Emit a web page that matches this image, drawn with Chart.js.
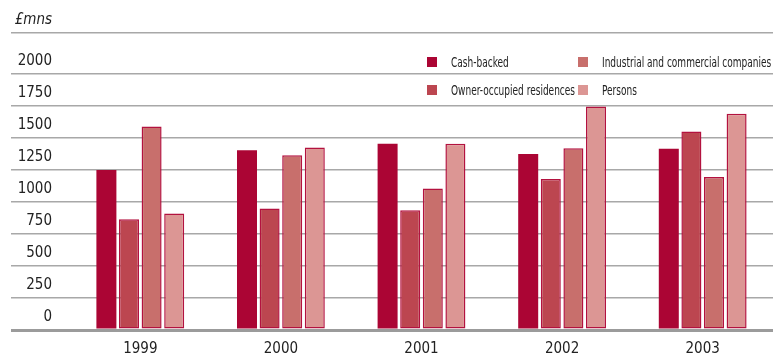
<!DOCTYPE html>
<html>
<head>
<meta charset="utf-8">
<script src="https://cdn.jsdelivr.net/npm/chart.js@4/dist/chart.umd.min.js"></script>
<style>
  html, body { margin: 0; padding: 0; background: #fff; overflow: hidden; }
  #wrap { position: relative; width: 773px; height: 356px; overflow: hidden; }
  #chart { display: block; }
  #legend {
    position: absolute; left: 427px; top: 52px;
    display: grid; grid-auto-flow: column;
    grid-template-rows: 20px 20px; row-gap: 8px;
    grid-template-columns: 151px 180px;
    font-family: "DejaVu Sans Condensed", "DejaVu Sans", sans-serif;
    font-size: 14px; color: #222;
  }
  .item { display: flex; align-items: center; white-space: nowrap; }
  .box { width: 10px; height: 10px; margin-right: 14px; flex: none; }
  .txt { display: inline-block; transform: scaleX(0.715); transform-origin: left center; }
</style>
</head>
<body>
<div id="wrap">
  <canvas id="chart" width="773" height="356"></canvas>
  <div id="legend"></div>
</div>
<script>
// Years on the category axis
const categories = ['1999', '2000', '2001', '2002', '2003'];

// Amounts in £ millions
const cashBacked      = [1250, 1405, 1455, 1375, 1415];
const ownerOccupied   = [ 865,  950,  935, 1180, 1550];
const industrialComm  = [1590, 1365, 1105, 1420, 1195];
const persons         = [ 910, 1425, 1455, 1745, 1690];

const seriesNames = ['Cash-backed', 'Owner-occupied residences',
                     'Industrial and commercial companies', 'Persons'];

// Value-axis ticks; the header row above 2000 carries the unit label
const yTicks = [0, 250, 500, 750, 1000, 1250, 1500, 1750, 2000];
const headerValue = 2320;
const unitLabel = '£mns';

const FONT = '"DejaVu Sans Condensed", "DejaVu Sans", sans-serif';
const EDGE = '#b3123f';
const fills = ['#ab0534', '#bc4650', '#c86f6c', '#dc9694'];

const datasets = [cashBacked, ownerOccupied, industrialComm, persons].map((vals, i) => ({
  label: seriesNames[i],
  data: vals,
  backgroundColor: fills[i],
  borderColor: i === 0 ? fills[0] : EDGE,
  borderWidth: i === 0 ? 0 : 1.5,
  borderSkipped: false,
  categoryPercentage: 0.643,
  barPercentage: 0.885
}));

const chart = new Chart(document.getElementById('chart'), {
  type: 'bar',
  data: { labels: categories, datasets },
  options: {
    responsive: false,
    animation: false,
    devicePixelRatio: 1,
    layout: { padding: { top: 33, left: 0, right: 0, bottom: 0 } },
    plugins: { legend: { display: false }, tooltip: { enabled: false } },
    scales: {
      x: {
        grid: { display: false, drawTicks: false },
        border: { display: false },
        ticks: { font: { family: FONT, size: 15 }, color: '#222', padding: 10 },
        afterFit: (s) => { s.height = 26; }
      },
      y: {
        min: 0,
        max: headerValue,
        border: { display: false },
        afterBuildTicks: (s) => {
          s.ticks = yTicks.concat([headerValue]).map(v => ({ value: v }));
        },
        afterFit: (s) => { s.width = 70; },
        grid: {
          color: (c) => (c.tick && c.tick.value === 0) ? '#9b9b9b' : '#a8a8a8',
          lineWidth: (c) => (c.tick && c.tick.value === 0) ? 3 : 1.5,
          drawTicks: true,
          tickLength: 59
        },
        ticks: {
          autoSkip: false,
          padding: -41,
          labelOffset: -13,
          color: '#222',
          font: (c) => ({
            family: FONT, size: 15,
            style: (c.tick && c.tick.value === headerValue) ? 'italic' : 'normal'
          }),
          callback: (v) => v === headerValue ? unitLabel : String(v)
        }
      }
    }
  }
});

// Two-column legend built from the chart's own legend items
const legendEl = document.getElementById('legend');
Chart.defaults.plugins.legend.labels.generateLabels(chart).forEach(item => {
  const row = document.createElement('div');
  row.className = 'item';
  const box = document.createElement('span');
  box.className = 'box';
  box.style.background = item.fillStyle;
  const txt = document.createElement('span');
  txt.className = 'txt';
  txt.textContent = item.text;
  row.appendChild(box);
  row.appendChild(txt);
  legendEl.appendChild(row);
});
</script>
</body>
</html>
